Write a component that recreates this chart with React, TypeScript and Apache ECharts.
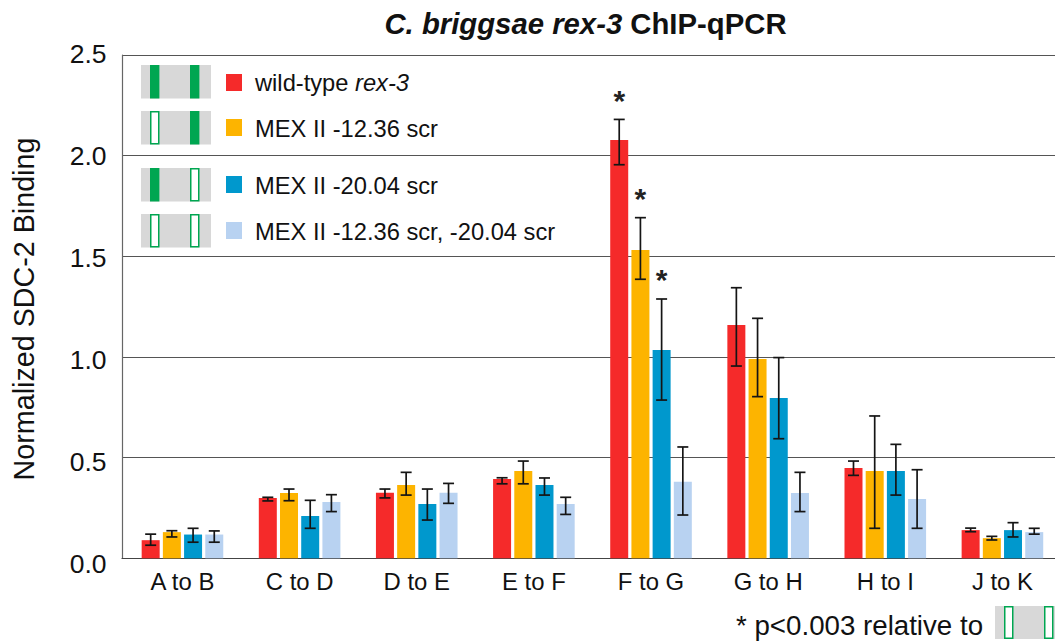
import React, { useEffect, useRef } from "react";
import * as echarts from "echarts";

const categories = ["A to B", "C to D", "D to E", "E to F", "F to G", "G to H", "H to I", "J to K"];
const yTicks = ["0.0", "0.5", "1.0", "1.5", "2.0", "2.5"];

const seriesNames = ["wild-type rex-3", "MEX II -12.36 scr", "MEX II -20.04 scr", "MEX II -12.36 scr, -20.04 scr"];

const wildType = [0.09, 0.3, 0.325, 0.394, 2.078, 1.159, 0.449, 0.14];
const wildTypeHi = [0.12, 0.303, 0.344, 0.4, 2.18, 1.344, 0.483, 0.15];
const wildTypeLo = [0.065, 0.285, 0.3, 0.37, 1.955, 0.955, 0.412, 0.132];

const scr1236 = [0.13, 0.324, 0.364, 0.434, 1.532, 0.99, 0.434, 0.1];
const scr1236Hi = [0.137, 0.344, 0.427, 0.483, 1.692, 1.192, 0.707, 0.109];
const scr1236Lo = [0.106, 0.286, 0.314, 0.37, 1.386, 0.803, 0.149, 0.091];

const scr2004 = [0.118, 0.21, 0.27, 0.364, 1.035, 0.796, 0.434, 0.14];
const scr2004Hi = [0.149, 0.288, 0.344, 0.399, 1.288, 0.997, 0.566, 0.177];
const scr2004Lo = [0.08, 0.149, 0.19, 0.314, 0.786, 0.594, 0.314, 0.106];

const scrBoth = [0.118, 0.28, 0.325, 0.27, 0.38, 0.324, 0.295, 0.13];
const scrBothHi = [0.136, 0.316, 0.372, 0.303, 0.553, 0.427, 0.44, 0.149];
const scrBothLo = [0.08, 0.232, 0.273, 0.218, 0.215, 0.232, 0.149, 0.12];

const starredCategory = "F to G";
const starredSeries = [true, true, true, false];

const colors = ["#f52a2a", "#fdb400", "#0098cd", "#b8d2f1"];
const FONT = '"Liberation Sans", Arial, sans-serif';
const TEXT = "#111";
const GRAY = "#d8d8d8";
const GREEN = "#00a651";

const BAR_W = 18;
const BAR_STEP = 21.2;

const values = [wildType, scr1236, scr2004, scrBoth];
const his = [wildTypeHi, scr1236Hi, scr2004Hi, scrBothHi];
const los = [wildTypeLo, scr1236Lo, scr2004Lo, scrBothLo];

function schematic(x: number, y: number, w: number, h: number, s1: number, s2: number, filled1: boolean, filled2: boolean) {
  const stripe = (sx: number, filled: boolean) => ({
    type: "rect",
    shape: { x: filled ? sx : sx + 0.75, y: filled ? y : y + 0.75, width: filled ? 9.4 : 8, height: filled ? h : h - 1.5 },
    style: filled ? { fill: GREEN } : { fill: "#fff", stroke: GREEN, lineWidth: 1.5 },
  });
  return [
    { type: "rect", shape: { x, y, width: w, height: h }, style: { fill: GRAY } },
    stripe(s1, filled1),
    stripe(s2, filled2),
  ];
}

const rows = [
  { y: 65, a: true, b: true, sy: 74, ty: 83 },
  { y: 111, a: false, b: true, sy: 119, ty: 129 },
  { y: 168, a: true, b: false, sy: 176, ty: 185.5 },
  { y: 214, a: false, b: false, sy: 222, ty: 231.5 },
];
const legendTexts = ["wild-type {i|rex-3}", seriesNames[1], seriesNames[2], seriesNames[3]];

export default function App() {
  const ref = useRef<HTMLDivElement>(null);
  useEffect(() => {
    document.body.style.margin = "0";
    document.body.style.overflow = "hidden";
    const chart = echarts.init(ref.current!, undefined, { renderer: "svg" });

    const graphic: any[] = [];
    rows.forEach((r, i) => {
      graphic.push(...schematic(141, r.y, 70, 33.5, 150, 190, r.a, r.b));
      graphic.push({ type: "rect", shape: { x: 226, y: r.sy, width: 16, height: 17 }, style: { fill: colors[i] } });
      graphic.push({
        type: "text",
        style: {
          x: 255,
          y: r.ty,
          text: legendTexts[i],
          fontSize: 23.7,
          fontFamily: FONT,
          fill: TEXT,
          verticalAlign: "middle",
          rich: { i: { fontStyle: "italic", fontSize: 23.7, fontFamily: FONT, fill: TEXT } },
        },
      });
    });
    graphic.push({
      type: "text",
      style: { x: 736, y: 625, text: "* p<0.003 relative to", fontSize: 27.7, fontFamily: FONT, fill: TEXT, verticalAlign: "middle" },
    });
    graphic.push(...schematic(995, 606, 60, 33, 1004, 1044, false, false));

    const barSeries = values.map((v, i) => ({
      name: seriesNames[i],
      type: "bar",
      xAxisIndex: 2,
      yAxisIndex: 2,
      data: v,
      barWidth: BAR_W,
      barGap: `${((BAR_STEP - BAR_W) / BAR_W) * 100}%`,
      itemStyle: { color: colors[i] },
      z: 3,
    }));

    const errorSeries = values.map((_, i) => ({
      name: seriesNames[i] + " error",
      type: "custom",
      xAxisIndex: 2,
      yAxisIndex: 2,
      z: 5,
      silent: true,
      encode: { x: 0, y: [1, 2] },
      data: categories.map((c, k) => [k, his[i][k], los[i][k]]),
      renderItem: (_p: any, api: any) => {
        const k = api.value(0);
        const dx = (i - 1.5) * BAR_STEP;
        const top = api.coord([k, api.value(1)]);
        const bot = api.coord([k, api.value(2)]);
        const x = top[0] + dx;
        const ln = (x1: number, y1: number, x2: number, y2: number) => ({
          type: "line",
          shape: { x1, y1, x2, y2 },
          style: { stroke: "#151515", lineWidth: 1.7 },
        });
        const children: any[] = [
          ln(x, top[1], x, bot[1]),
          ln(x - 5.5, top[1], x + 5.5, top[1]),
          ln(x - 5.5, bot[1], x + 5.5, bot[1]),
        ];
        if (categories[k] === starredCategory && starredSeries[i]) {
          children.push({
            type: "text",
            style: {
              x,
              y: top[1] - 19,
              text: "*",
              fontSize: 30,
              fontFamily: FONT,
              fontWeight: "bold",
              fill: "#222",
              align: "center",
              verticalAlign: "middle",
            },
          });
        }
        return { type: "group", children };
      },
    }));

    chart.setOption({
      animation: false,
      backgroundColor: "#fff",
      title: {
        left: 580.5,
        top: 4,
        textAlign: "center",
        text: "{i|C. briggsae rex-3}{b| ChIP-qPCR}",
        textStyle: {
          rich: {
            i: { fontStyle: "italic", fontWeight: "bold", fontSize: 29.3, fontFamily: FONT, color: TEXT },
            b: { fontWeight: "bold", fontSize: 29.3, fontFamily: FONT, color: TEXT },
          },
        },
      },
      grid: [
        { left: 122, top: 54, width: 933, height: 510, outerBoundsMode: "none" },
        { left: 122, top: 55, width: 933, height: 503.3, outerBoundsMode: "none" },
        { left: 123.9, top: 55, width: 937.1, height: 503.3, outerBoundsMode: "none" },
      ],
      xAxis: [
        { gridIndex: 0, type: "category", show: false, data: categories },
        {
          gridIndex: 1,
          type: "category",
          data: categories,
          axisTick: { show: false },
          axisLabel: { show: false },
          axisLine: { show: true, onZero: false, lineStyle: { color: "#444", width: 1.2 } },
        },
        {
          gridIndex: 2,
          type: "category",
          data: categories,
          axisLine: { show: false },
          axisTick: { show: false },
          axisLabel: { color: TEXT, fontFamily: FONT, fontSize: 23.9, margin: 11, interval: 0 },
        },
      ],
      yAxis: [
        {
          gridIndex: 0,
          type: "value",
          min: 0,
          max: 2.5,
          interval: 0.5,
          axisLine: { show: false },
          axisTick: { show: false },
          splitLine: { show: false },
          axisLabel: {
            color: TEXT,
            fontFamily: FONT,
            fontSize: 26.5,
            margin: 15.5,
            formatter: (v: number) => yTicks[Math.round(v / 0.5)],
          },
          name: "Normalized SDC-2 Binding",
          nameLocation: "middle",
          nameRotate: 90,
          nameGap: 84,
          nameTextStyle: { color: TEXT, fontFamily: FONT, fontSize: 28.7 },
        },
        {
          gridIndex: 1,
          type: "value",
          min: 0,
          max: 2.5,
          interval: 0.5,
          axisLine: { show: true, lineStyle: { color: "#666", width: 1.2 } },
          axisTick: { show: false },
          axisLabel: { show: false },
          splitLine: { show: true, lineStyle: { color: "#555", width: 1.2 } },
        },
        {
          gridIndex: 2,
          type: "value",
          min: 0,
          max: 2.5,
          interval: 0.5,
          axisLine: { show: false },
          axisTick: { show: false },
          axisLabel: { show: false },
          splitLine: { show: false },
        },
      ],
      series: [...barSeries, ...errorSeries],
      graphic,
    });
    return () => chart.dispose();
  }, []);
  return <div ref={ref} style={{ width: 1055, height: 644 }} />;
}
